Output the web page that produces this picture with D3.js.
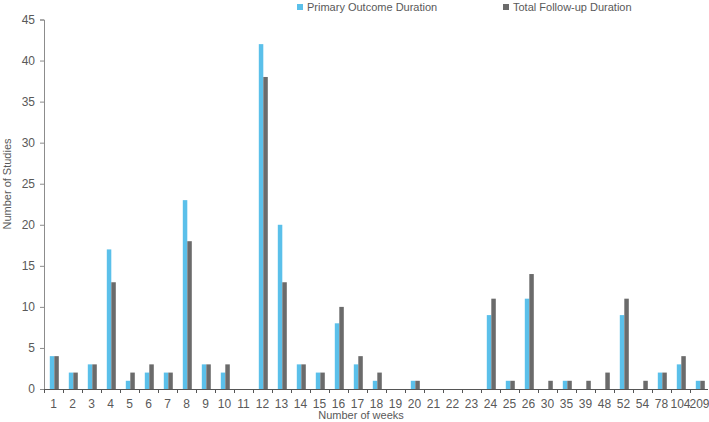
<!DOCTYPE html>
<html><head><meta charset="utf-8">
<script src="https://cdn.jsdelivr.net/npm/d3@7"></script>
<style>body{margin:0;background:#fff}svg{display:block;font-family:"Liberation Sans",Arial,sans-serif}</style>
</head><body><svg id="c" width="709" height="422"></svg>
<script>
const categories = ["1","2","3","4","5","6","7","8","9","10","11","12","13","14","15","16","17","18","19","20","21","22","23","24","25","26","30","35","39","48","52","54","78","104","209"];
const primaryOutcome = [4,2,3,17,1,2,2,23,3,2,0,42,20,3,2,8,3,1,0,1,0,0,0,9,1,11,0,1,0,0,9,0,2,3,1];
const totalFollowUp = [4,2,3,13,2,3,2,18,3,3,0,38,13,3,2,10,4,2,0,1,0,0,0,11,1,14,1,1,1,2,11,1,2,4,1];
const seriesNames = ["Primary Outcome Duration","Total Follow-up Duration"];
const yTicks = [0,5,10,15,20,25,30,35,40,45];

(function(){
const colors = ["#5bc0ea","#6b6b6b"];
const svg = d3.select("#c");
const mLeft = 44, mRight = 709, mTop = 19.5, mBottom = 389;
const x = d3.scaleBand().domain(categories).range([mLeft, mRight]).padding(0);
const y = d3.scaleLinear().domain([0,45]).range([mBottom, mTop]);
const inner = d3.scaleBand().domain([0,1]).range([0, 9]).padding(0);
const off = (x.bandwidth() - 9) / 2 + 0.8;

const data = categories.map((c,i)=>({c, v:[primaryOutcome[i], totalFollowUp[i]]}));
const g = svg.append("g");
g.selectAll("g.grp").data(data).join("g").attr("class","grp")
  .attr("transform", d=>`translate(${x(d.c)+off},0)`)
  .selectAll("rect").data(d=>d.v.map((v,k)=>({v,k}))).join("rect")
  .attr("x", d=>inner(d.k)).attr("width", inner.bandwidth())
  .attr("y", d=>y(d.v)).attr("height", d=>mBottom - y(d.v))
  .attr("fill", d=>colors[d.k]);

// y axis
const ya = svg.append("g").attr("transform",`translate(${mLeft},0)`)
  .call(d3.axisLeft(y).tickValues(yTicks).tickSize(4).tickPadding(5));
ya.select(".domain").attr("stroke","#8c8c8c");
ya.selectAll(".tick line").attr("stroke","#8c8c8c");
ya.selectAll(".tick text").attr("fill","#595959").style("font-size","12px");

// x axis
const xa = svg.append("g").attr("transform",`translate(0,${mBottom})`)
  .call(d3.axisBottom(x).tickSize(0).tickPadding(10));
xa.select(".domain").attr("stroke","#555").attr("d",`M${mLeft},0.5H${mRight-1}`);
xa.selectAll(".tick text").attr("fill","#595959").style("font-size","12px");
svg.append("g").selectAll("line").data(categories).join("line")
  .attr("x1", d=>x(d)+0.5).attr("x2", d=>x(d)+0.5)
  .attr("y1", mBottom).attr("y2", mBottom+4).attr("stroke","#555");

// labels
svg.append("text").attr("x",361).attr("y",419).attr("text-anchor","middle")
  .attr("fill","#595959").style("font-size","11px").text("Number of weeks");
svg.append("text").attr("transform","translate(11,184) rotate(-90)").attr("text-anchor","middle")
  .attr("fill","#595959").style("font-size","11px").text("Number of Studies");

// legend
const legX = [297, 503];
seriesNames.forEach((n,i)=>{
  svg.append("rect").attr("x",legX[i]).attr("y",4).attr("width",6).attr("height",6).attr("fill",colors[i]);
  svg.append("text").attr("x",legX[i]+10).attr("y",11).attr("fill","#595959").style("font-size","11px").text(n);
});
})();
</script></body></html>
